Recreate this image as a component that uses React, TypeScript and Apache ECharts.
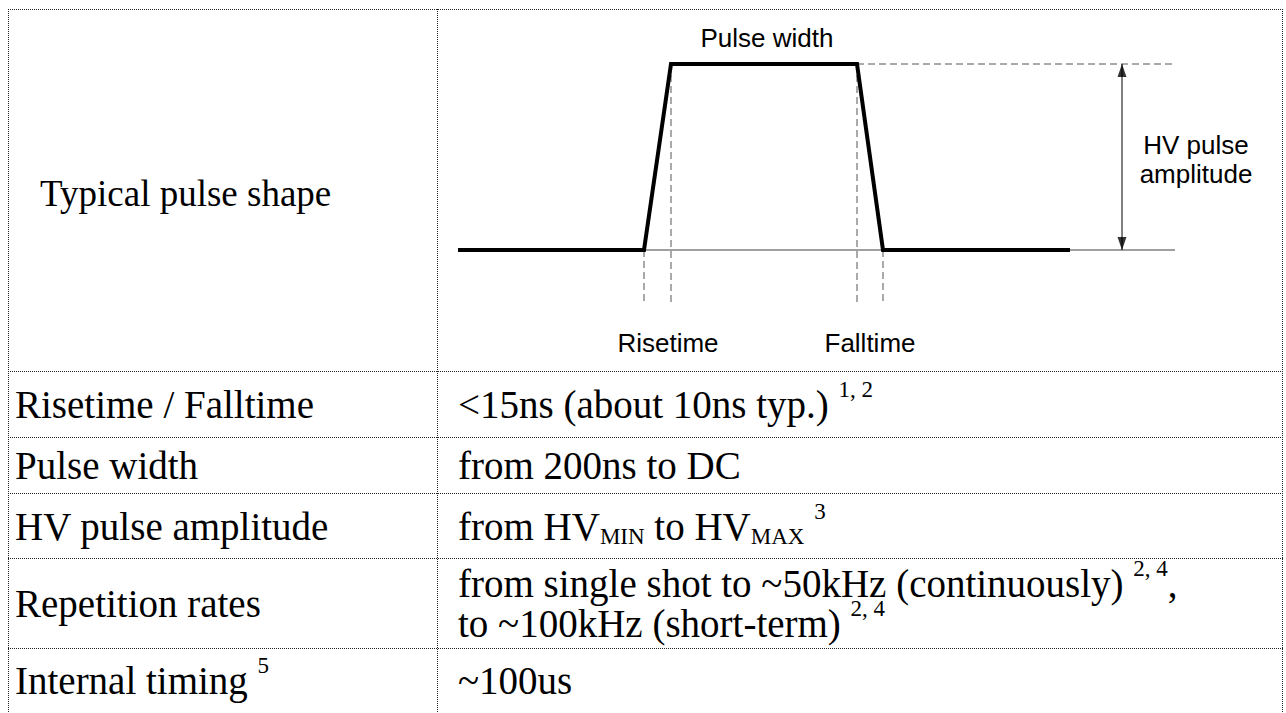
import React, { useEffect, useRef } from 'react';
import * as echarts from 'echarts';

// ---------- Pulse diagram data (time units, normalized amplitude) ----------
const pulseTime = [0, 186, 213, 399, 425, 612];
const pulseLevel = [0, 0, 1, 1, 0, 0];
const referenceLine = [186, 717]; // thin zero-level reference (start, end)
const topReference = [399, 717]; // dashed amplitude level (start, end)
const edgeTimes = [186, 213, 399, 425]; // rise start/end, fall start/end
const edgeLevels = [0, 1, 1, 0];
const edgeDashEnd = -0.285;
const amplitudeMarkerTime = 664;

const diagramLabels = ['Pulse width', 'Risetime', 'Falltime', 'HV pulse', 'amplitude'];

// ---------- Table texts ----------
const rowLabels = [
  'Typical pulse shape',
  'Risetime / Falltime',
  'Pulse width',
  'HV pulse amplitude',
  'Repetition rates',
  'Internal timing {sup|5}',
];
const rowValues = [
  '',
  '<15ns (about 10ns typ.) {sup|1, 2}',
  'from 200ns to DC',
  'from HV{sub|MIN} to HV{sub|MAX} {sup|3}',
  'from single shot to ~50kHz (continuously) {sup|2, 4},\nto ~100kHz (short-term) {sup|2, 4}',
  '~100us',
];

// ---------- Layout (pixels) ----------
const TABLE_LEFT = 8;
const TABLE_RIGHT = 1283;
const TABLE_TOP = 9;
const TABLE_BOTTOM = 713;
const COL_X = 437;
const rowLines = [371, 437, 493, 558, 648];
const rowCenters = [193, 404, 465, 526, 603, 680];
const labelX = [40, 15, 15, 15, 15, 15];
const labelSize = [37, 39, 39, 39, 39, 39];
const valueX = 458;

const SERIF = '"Liberation Serif", "Times New Roman", serif';
const SANS = '"Liberation Sans", Arial, sans-serif';

const richStyles = {
  sup: { fontSize: 23, fontFamily: SERIF, height: 10, verticalAlign: 'top', fill: '#000' },
  sub: { fontSize: 23, fontFamily: SERIF, height: 20, verticalAlign: 'bottom', fill: '#000' },
};

function dottedLine(x1: number, y1: number, x2: number, y2: number) {
  return {
    type: 'line',
    silent: true,
    shape: { x1, y1, x2, y2 },
    style: { stroke: '#222', lineWidth: 1, lineDash: [1, 1] },
  };
}

function tableText(x: number, y: number, text: string, size: number) {
  return {
    type: 'text',
    x,
    y,
    silent: true,
    style: {
      text,
      fontSize: size,
      fontFamily: SERIF,
      fill: '#000',
      lineHeight: 40,
      textAlign: 'left',
      align: 'left',
      textVerticalAlign: 'middle',
      verticalAlign: 'middle',
      rich: richStyles,
    },
  };
}

function labelText(x: number, y: number, text: string) {
  return {
    type: 'text',
    x,
    y,
    silent: true,
    style: {
      text,
      fontSize: 26,
      fontFamily: SANS,
      fill: '#000',
      textAlign: 'center',
      align: 'center',
      textVerticalAlign: 'middle',
      verticalAlign: 'middle',
    },
  };
}

function buildOption() {
  const graphics: any[] = [];
  // borders
  graphics.push(dottedLine(TABLE_LEFT, TABLE_TOP + 0.5, TABLE_RIGHT, TABLE_TOP + 0.5));
  graphics.push(dottedLine(TABLE_LEFT + 0.5, TABLE_TOP, TABLE_LEFT + 0.5, TABLE_BOTTOM));
  graphics.push(dottedLine(TABLE_RIGHT - 0.5, TABLE_TOP, TABLE_RIGHT - 0.5, TABLE_BOTTOM));
  graphics.push(dottedLine(COL_X + 0.5, TABLE_TOP, COL_X + 0.5, TABLE_BOTTOM));
  rowLines.forEach((y) => graphics.push(dottedLine(TABLE_LEFT, y + 0.5, TABLE_RIGHT, y + 0.5)));
  // table texts
  rowLabels.forEach((t, i) => graphics.push(tableText(labelX[i], rowCenters[i], t, labelSize[i])));
  rowValues.forEach((t, i) => {
    if (t) graphics.push(tableText(valueX, rowCenters[i], t, 39));
  });
  // diagram labels
  const labelPos = [
    [767, 38],
    [668, 343],
    [870, 343],
    [1196, 145],
    [1196, 174],
  ];
  diagramLabels.forEach((t, i) => graphics.push(labelText(labelPos[i][0], labelPos[i][1], t)));

  const dashStyle = { color: '#555', width: 1, type: [7, 4] as any };

  const series: any[] = [];
  series.push({
    type: 'line',
    data: [
      [referenceLine[0], 0],
      [referenceLine[1], 0],
    ],
    symbol: 'none',
    clip: false,
    lineStyle: { color: '#808080', width: 1.5 },
    z: 1,
  });
  series.push({
    type: 'line',
    data: [
      [topReference[0], 1],
      [topReference[1], 1],
    ],
    symbol: 'none',
    clip: false,
    lineStyle: dashStyle,
    z: 1,
  });
  edgeTimes.forEach((t, i) => {
    series.push({
      type: 'line',
      data: [
        [t, edgeLevels[i]],
        [t, edgeDashEnd],
      ],
      symbol: 'none',
      clip: false,
      lineStyle: dashStyle,
      z: 1,
    });
  });
  series.push({
    type: 'line',
    data: pulseTime.map((t, i) => [t, pulseLevel[i]]),
    symbol: 'none',
    clip: false,
    lineStyle: { color: '#000', width: 4, join: 'miter', cap: 'butt' },
    z: 3,
  });
  // amplitude arrow
  series.push({
    type: 'line',
    data: [
      [amplitudeMarkerTime, 0],
      [amplitudeMarkerTime, 1],
    ],
    symbol: 'none',
    clip: false,
    lineStyle: { color: '#000', width: 1 },
    z: 2,
  });
  series.push({
    type: 'scatter',
    data: [[amplitudeMarkerTime, 1]],
    symbol: 'triangle',
    symbolSize: [9, 13],
    symbolOffset: [0, 6.5],
    clip: false,
    itemStyle: { color: '#000' },
    z: 2,
  });
  series.push({
    type: 'scatter',
    data: [[amplitudeMarkerTime, 0]],
    symbol: 'triangle',
    symbolRotate: 180,
    symbolSize: [9, 13],
    symbolOffset: [0, -6.5],
    clip: false,
    itemStyle: { color: '#000' },
    z: 2,
  });

  return {
    animation: false,
    backgroundColor: '#fff',
    grid: { left: 458, top: 64, width: 717, height: 241.8, show: false },
    xAxis: { type: 'value', min: 0, max: 717, show: false },
    yAxis: { type: 'value', min: -0.3, max: 1, show: false },
    tooltip: { show: false },
    series,
    graphic: { elements: graphics },
  };
}

export default function App() {
  const ref = useRef<HTMLDivElement>(null);
  useEffect(() => {
    if (!ref.current) return;
    const chart = echarts.init(ref.current, null, { renderer: 'svg' });
    chart.setOption(buildOption() as any);
    return () => chart.dispose();
  }, []);
  return (
    <div style={{ position: 'fixed', left: 0, top: 0, width: 1286, height: 713, background: '#fff' }}>
      <div ref={ref} style={{ width: 1286, height: 713 }} />
    </div>
  );
}
